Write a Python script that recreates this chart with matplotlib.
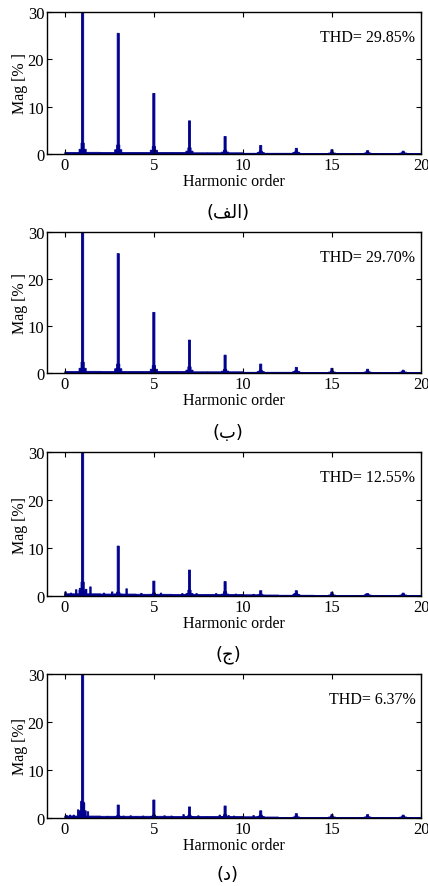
import matplotlib
matplotlib.use("Agg")
import matplotlib.pyplot as plt

# ---------------- data ----------------
captions = ["الف", "ب", "ج", "د"]
thd_labels = ["THD= 29.85%", "THD= 29.70%", "THD= 12.55%", "THD= 6.37%"]
ylabels = ["Mag [% ]", "Mag [% ]", "Mag [%]", "Mag [%]"]

orders = [1, 3, 5, 7, 9, 11, 13, 15, 17, 19]
peaks_a = [100, 25.5, 12.8, 7.0, 3.7, 1.8, 1.2, 0.9, 0.7, 0.6]
peaks_b = [100, 25.4, 12.9, 7.0, 3.8, 1.9, 1.2, 1.0, 0.8, 0.6]
peaks_c = [100, 10.4, 3.1, 5.4, 3.0, 1.1, 1.1, 0.8, 0.5, 0.6]
peaks_d = [100, 2.7, 3.75, 2.3, 2.5, 1.5, 0.9, 0.7, 0.7, 0.6]

skirt_hi_a = [2.3, 1.9, 1.6, 1.3, 0.8, 0.6, 0.5, 0.4, 0.4, 0.3]
skirt_lo_a = [1.0, 0.9, 0.8, 0.6, 0.4, 0.3, 0.3, 0.2, 0.2, 0.2]
skirt_hi_b = [2.3, 1.9, 1.6, 1.3, 0.8, 0.6, 0.5, 0.4, 0.4, 0.3]
skirt_lo_b = [1.0, 0.9, 0.8, 0.6, 0.4, 0.3, 0.3, 0.2, 0.2, 0.2]
skirt_hi_c = [2.9, 0.8, 0.6, 1.2, 0.9, 0.4, 0.5, 0.4, 0.3, 0.3]
skirt_lo_c = [1.2, 0.4, 0.3, 0.5, 0.4, 0.2, 0.3, 0.2, 0.2, 0.2]
skirt_hi_d = [3.3, 0.5, 0.6, 0.6, 0.7, 0.6, 0.4, 0.3, 0.3, 0.3]
skirt_lo_d = [1.5, 0.3, 0.3, 0.3, 0.3, 0.3, 0.2, 0.2, 0.2, 0.2]

# noise floor per unit interval [k, k+1)
floor_a = [0.3, 0.35, 0.3, 0.3, 0.3, 0.3, 0.3, 0.25, 0.25, 0.25,
           0.15, 0.15, 0.15, 0.12, 0.12, 0.12, 0.1, 0.1, 0.1, 0.1]
floor_b = [0.3, 0.35, 0.3, 0.3, 0.3, 0.3, 0.3, 0.25, 0.25, 0.25,
           0.15, 0.15, 0.15, 0.12, 0.12, 0.12, 0.1, 0.1, 0.1, 0.1]
floor_c = [0.45, 0.45, 0.4, 0.4, 0.35, 0.35, 0.3, 0.3, 0.3, 0.3,
           0.25, 0.2, 0.15, 0.15, 0.12, 0.12, 0.1, 0.1, 0.1, 0.1]
floor_d = [0.4, 0.4, 0.35, 0.35, 0.35, 0.35, 0.3, 0.3, 0.3, 0.3,
           0.25, 0.2, 0.12, 0.12, 0.1, 0.1, 0.1, 0.1, 0.1, 0.1]

# additional spectral components (interharmonics / noise spikes)
extra_c_orders = [0.04, 0.35, 0.64, 0.85, 1.2, 1.44, 2.2, 2.66, 3.47, 4.3,
                  5.4, 6.6, 7.4, 8.5, 9.6, 10.6, 12.9, 16.9]
extra_c_mags = [0.85, 0.6, 1.3, 1.6, 1.4, 1.9, 0.6, 0.85, 1.5, 0.55,
                0.6, 0.5, 0.5, 0.5, 0.4, 0.35, 0.5, 0.4]
extra_d_orders = [0.1, 0.3, 0.5, 0.75, 0.93, 1.08, 1.3, 2.4, 3.3, 3.7,
                  4.4, 5.6, 6.0, 6.67, 7.5, 8.7, 9.2, 9.5, 10.6]
extra_d_mags = [0.5, 0.6, 0.6, 1.7, 3.5, 3.1, 1.3, 0.35, 0.4, 0.45,
                0.4, 0.45, 0.4, 0.7, 0.45, 0.6, 0.5, 0.4, 0.5]

panels = [
    (peaks_a, skirt_hi_a, skirt_lo_a, floor_a, [], []),
    (peaks_b, skirt_hi_b, skirt_lo_b, floor_b, [], []),
    (peaks_c, skirt_hi_c, skirt_lo_c, floor_c, extra_c_orders, extra_c_mags),
    (peaks_d, skirt_hi_d, skirt_lo_d, floor_d, extra_d_orders, extra_d_mags),
]

# ---------------- Arabic shaping (visual order) ----------------
FORMS = {  # isolated, final, initial, medial
    "ا": ("\uFE8D", "\uFE8E", None, None),
    "ل": ("\uFEDD", "\uFEDE", "\uFEDF", "\uFEE0"),
    "ف": ("\uFED1", "\uFED2", "\uFED3", "\uFED4"),
    "ب": ("\uFE8F", "\uFE90", "\uFE91", "\uFE92"),
    "ج": ("\uFE9D", "\uFE9E", "\uFE9F", "\uFEA0"),
    "د": ("\uFEA9", "\uFEAA", None, None),
}


def shape(word):
    out = []
    n = len(word)
    for i, ch in enumerate(word):
        f = FORMS[ch]
        prev_joins = i > 0 and FORMS[word[i - 1]][2] is not None
        next_joins = i < n - 1 and f[2] is not None
        if prev_joins and next_joins:
            out.append(f[3])
        elif prev_joins:
            out.append(f[1])
        elif next_joins:
            out.append(f[2])
        else:
            out.append(f[0])
    return "(" + "".join(reversed(out)) + ")"


# ---------------- figure ----------------
W, H = 428, 887
fig = plt.figure(figsize=(W / 100, H / 100), dpi=100)
serif = "Liberation Serif"
color = "#00008f"

tops = [13, 233, 453, 675]
bots = [155, 374, 597, 819]
cap_y = [213, 433, 655, 875]
left, right = 47, 421

bar_kw = dict(color=color, edgecolor=color, linewidth=0.6)

for k, (pk, shi, slo, flo, ex_o, ex_m) in enumerate(panels):
    ax = fig.add_axes([left / W, 1 - bots[k] / H, (right - left) / W,
                       (bots[k] - tops[k]) / H])
    groups = []
    # noise floor
    groups.append(ax.bar(list(range(20)), flo, width=1.0, align="edge", **bar_kw))
    # skirts
    groups.append(ax.bar(orders, slo, width=0.4, **bar_kw))
    groups.append(ax.bar(orders, shi, width=0.18, **bar_kw))
    # extra components
    if ex_o:
        groups.append(ax.bar(ex_o, ex_m, width=0.08, **bar_kw))
    # harmonic peaks
    groups.append(ax.bar(orders, pk, width=0.12, **bar_kw))
    for g in groups:
        for p in g:
            p.set_snap(False)

    ax.set_xlim(-1, 20)
    ax.set_ylim(0, 30)
    ax.set_xticks([0, 5, 10, 15, 20])
    ax.set_yticks([0, 10, 20, 30])
    ax.tick_params(direction="in", top=True, right=True, length=3.5,
                   width=0.8, labelsize=12, pad=2)
    for lab in ax.get_xticklabels() + ax.get_yticklabels():
        lab.set_fontfamily(serif)
    for sp in ax.spines.values():
        sp.set_linewidth(1.0)
        sp.set_zorder(3)
    ax.set_xlabel("Harmonic order", fontfamily=serif, fontsize=11.5,
                  labelpad=0.5)
    ax.set_ylabel(ylabels[k], fontfamily=serif, fontsize=11.5, labelpad=0)
    ax.text(0.985, 0.825, thd_labels[k], transform=ax.transAxes, ha="right",
            va="center", fontfamily=serif, fontsize=11.5)

    fig.text(228 / W, 1 - cap_y[k] / H, shape(captions[k]), ha="center",
             va="center", fontfamily=["DejaVu Sans"], fontsize=13)

fig.savefig("out.png", dpi=100)
